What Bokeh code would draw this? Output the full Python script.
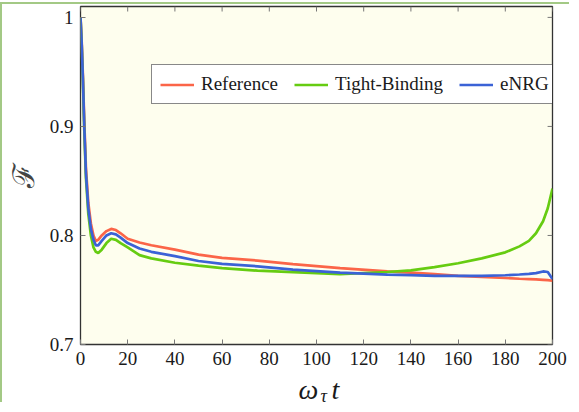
from bokeh.plotting import figure
from bokeh.layouts import column
from bokeh.models import (Range1d, FixedTicker, Legend, LegendItem, Label)
from bokeh.embed import file_html
from bokeh.resources import INLINE

# ---- data ----
t = [0, 0.5, 1, 1.6, 2.3, 3.3, 4.4, 5.5, 6.5, 7.5,
     9, 11, 13, 15, 17, 20, 25, 30, 40, 50,
     60, 75, 90, 110, 130, 140, 150, 160, 170, 180,
     186, 190, 193, 196, 198, 200]
reference = [1.0, 0.978, 0.948, 0.905, 0.862, 0.830, 0.811, 0.800, 0.795, 0.796,
             0.800, 0.804, 0.806, 0.805, 0.802, 0.797, 0.7935, 0.791, 0.787, 0.7824,
             0.7795, 0.777, 0.7738, 0.770, 0.767, 0.766, 0.7645, 0.763, 0.762, 0.761,
             0.7603, 0.760, 0.7597, 0.7593, 0.759, 0.7585]
tight_binding = [1.0, 0.975, 0.943, 0.897, 0.853, 0.820, 0.800, 0.789, 0.785, 0.784,
                 0.787, 0.793, 0.797, 0.796, 0.793, 0.789, 0.782, 0.779, 0.775, 0.7723,
                 0.770, 0.7677, 0.7663, 0.7646, 0.7665, 0.768, 0.771, 0.7745, 0.779, 0.7845,
                 0.790, 0.795, 0.802, 0.813, 0.825, 0.843]
enrg = [1.0, 0.976, 0.945, 0.900, 0.857, 0.825, 0.806, 0.796, 0.791, 0.791,
        0.795, 0.800, 0.802, 0.801, 0.798, 0.793, 0.788, 0.785, 0.781, 0.7766,
        0.774, 0.7717, 0.7687, 0.766, 0.764, 0.7637, 0.763, 0.763, 0.763, 0.7635,
        0.7642, 0.7648, 0.7655, 0.767, 0.7665, 0.760]
series_names = ["Reference", "Tight-Binding", "eNRG"]
x_ticks = [0, 20, 40, 60, 80, 100, 120, 140, 160, 180, 200]
y_ticks = [0.7, 0.8, 0.9, 1.0]
y_tick_labels = {1.0: "1"}
x_min, x_max = 0, 200
y_min, y_max = 0.7, 1.01

colors = ["#fb6548", "#66cc11", "#3b62d6"]
SERIF = "Liberation Serif"
TICK_COLOR = "#777777"
BORDER = "2px solid #a3c985"

p = figure(width=569, height=370, output_backend="svg", toolbar_location=None,
           x_range=Range1d(x_min, x_max), y_range=Range1d(y_min, y_max),
           min_border_left=70, min_border_right=19, min_border_top=2, min_border_bottom=30)
p.styles = {"border-top": BORDER, "border-left": BORDER, "margin-top": "2px"}
p.background_fill_color = "#fefeee"
p.border_fill_color = "white"
p.outline_line_color = "#333333"
p.outline_line_width = 1.3
p.grid.visible = False

for ax in (p.xaxis[0], p.yaxis[0]):
    ax.axis_line_color = None
    ax.major_tick_in = 5
    ax.major_tick_out = 0
    ax.minor_tick_line_color = None
    ax.major_tick_line_color = TICK_COLOR
    ax.major_label_text_font = SERIF
    ax.major_label_text_font_size = "19px"
    ax.major_label_text_color = "#1a1a1a"
    ax.major_label_standoff = 7

p.xaxis.ticker = FixedTicker(ticks=x_ticks)
p.yaxis.ticker = FixedTicker(ticks=y_ticks)
p.yaxis.major_label_overrides = y_tick_labels
p.yaxis.axis_label = "\u2131"
p.yaxis.axis_label_text_font = "DejaVu Serif"
p.yaxis.axis_label_text_font_style = "normal"
p.yaxis.axis_label_text_font_size = "30px"
p.yaxis.axis_label_standoff = 6

# mirrored tick marks on the top and right edges of the frame
tick_dy = 5 * (y_max - y_min) / 338.0
tick_dx = 5 * (x_max - x_min) / 480.0
p.segment(x0=x_ticks, y0=[y_max] * len(x_ticks), x1=x_ticks, y1=[y_max - tick_dy] * len(x_ticks),
          line_color=TICK_COLOR, line_width=1)
p.segment(x0=[x_max] * len(y_ticks), y0=y_ticks, x1=[x_max - tick_dx] * len(y_ticks), y1=y_ticks,
          line_color=TICK_COLOR, line_width=1)

renderers = []
for ys, c in zip([reference, tight_binding, enrg], colors):
    r = p.line(t, ys, line_color=c, line_width=2.7)
    renderers.append(r)

legend = Legend(items=[LegendItem(label=n, renderers=[r]) for n, r in zip(series_names, renderers)],
                orientation="horizontal", location=(71, 240))
legend.label_text_font = SERIF
legend.label_text_font_size = "19px"
legend.label_text_color = "#1a1a1a"
legend.glyph_width = 34
legend.glyph_height = 19
legend.label_height = 19
legend.label_standoff = 7
legend.spacing = 16
legend.padding = 8
legend.margin = 0
legend.border_line_color = "#111111"
legend.border_line_width = 1
legend.background_fill_color = "white"
legend.background_fill_alpha = 1
p.add_layout(legend, "center")

# strip below the plot carrying the x axis label  omega_tau t
q = figure(width=569, height=30, output_backend="svg", toolbar_location=None,
           x_range=Range1d(0, 1), y_range=Range1d(0, 1),
           x_axis_location=None, y_axis_location=None,
           min_border_left=0, min_border_right=0, min_border_top=0, min_border_bottom=0)
q.styles = {"border-left": BORDER}
q.grid.visible = False
q.outline_line_color = None
q.background_fill_color = "white"
q.border_fill_color = "white"
lab_kw = dict(x_units="screen", y_units="screen", text_font=SERIF,
              text_font_style="italic", text_color="#1a1a1a", text_baseline="alphabetic")
q.add_layout(Label(x=218, y=13, text="\u03c9", text_font_size="28px", **lab_kw))
q.add_layout(Label(x=240, y=7, text="\u03c4", text_font_size="18px", **lab_kw))
q.add_layout(Label(x=251, y=13, text="t", text_font_size="28px", **lab_kw))

layout = column(p, q, spacing=0)
open("out.html", "w").write(file_html(layout, INLINE))
